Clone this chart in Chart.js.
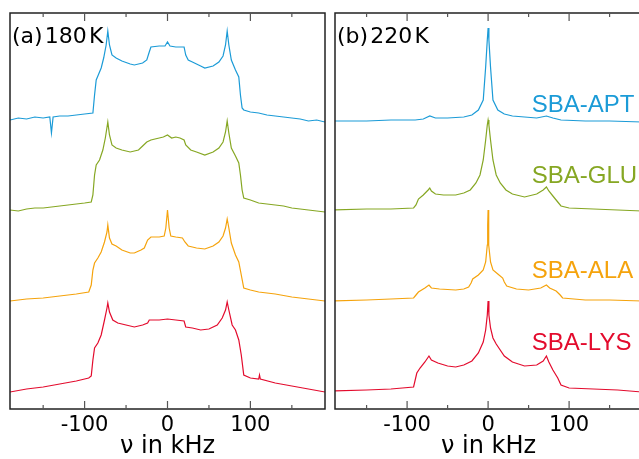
<!DOCTYPE html>
<html>
<head>
<meta charset="utf-8">
<script src="https://cdn.jsdelivr.net/npm/chart.js@4.4.1/dist/chart.umd.min.js"></script>
<style>
  html, body { margin: 0; padding: 0; background: #fff; overflow: hidden; width: 639px; height: 459px; }
  canvas { position: absolute; top: 0; }
  #left { left: 0; }
  #right { left: 325px; }
</style>
</head>
<body>
<canvas id="left" width="330" height="459"></canvas>
<canvas id="right" width="320" height="459"></canvas>
<script>
// stacked spectra: names, colours and vertical offsets
const samples = ['SBA-APT', 'SBA-GLU', 'SBA-ALA', 'SBA-LYS'];
const colors = ['#1b9bd7', '#86a723', '#f5a30c', '#e30b2d'];
const offsets = [289, 199, 108, 17];
const tickValues = [-150, -100, -50, 0, 50, 100, 150];
const tickLabels = ['', '-100', '', '0', '', '100', ''];

// (a) 180 K  -- frequency in kHz, intensity in arb. units
const aptX180 = [-190,-180,-170,-160,-150,-142,-140,-138,-130,-120,-110,-100,-90,-88,-86,-84,-80,-77,-74,-72,-70,-67,-62,-55,-45,-40,-30,-25,-22,-20,-10,-3,0,3,10,20,22,25,30,40,45,55,62,67,70,72,74,77,82,86,88,90,92,100,110,120,130,140,150,160,170,180,190];
const aptY180 = [0,2,1,3,2,3,-13,3,4,4,5,6,7,25,40,44,52,62,75,89,75,65,62,59,56,55,57,60,68,73,74,74,78,74,73,73,65,60,58,54,52,54,58,64,75,89,75,60,50,43,25,12,10,8,7,5,4,3,2,1,-1,0,-2];
const gluX180 = [-190,-180,-170,-160,-150,-140,-130,-120,-110,-100,-92,-90,-88,-86,-82,-78,-75,-72,-70,-67,-62,-55,-45,-40,-35,-30,-25,-20,-10,-5,0,5,10,15,20,22,28,35,45,55,62,67,70,72,74,77,82,86,88,90,92,100,110,120,130,140,150,160,170,180,190];
const gluY180 = [0,-1,1,2,2,3,4,5,6,7,8,15,35,45,50,60,72,88,75,65,62,60,58,59,60,64,68,70,72,73,75,72,73,72,70,65,60,58,55,58,62,68,78,89,77,62,54,47,35,20,12,10,7,6,5,4,2,1,0,-1,-2];
const alaX180 = [-190,-170,-150,-130,-110,-95,-92,-90,-88,-84,-80,-76,-73,-72,-70,-67,-62,-55,-45,-40,-32,-28,-24,-20,-10,-4,-2,0,2,4,10,18,21,25,35,45,55,62,67,70,72,74,77,82,86,89,92,100,110,130,150,170,190];
const alaY180 = [0,2,3,5,7,9,16,31,38,43,49,59,69,76,63,57,55,51,48,48,51,53,61,64,64,65,73,91,73,65,64,63,59,55,53,52,55,59,65,73,82,73,58,46,39,26,13,11,9,7,4,2,0];
const lysX180 = [-190,-170,-150,-130,-110,-95,-92,-90,-88,-84,-80,-76,-73,-72,-70,-66,-60,-50,-40,-30,-24,-22,-10,0,10,20,22,30,40,50,60,66,70,72,74,78,82,86,89,92,100,110,111,112,130,150,170,190];
const lysY180 = [0,3,5,8,11,14,16,32,44,49,57,72,84,89,80,72,69,67,65,67,69,72,72,73,72,71,65,64,62,63,67,74,82,90,82,67,62,52,37,17,14,13,17,13,9,6,3,0];

// (b) 220 K
const aptX220 = [-190,-150,-120,-90,-80,-72,-65,-50,-30,-20,-12,-6,-3,-1,0,1,3,6,12,20,30,45,60,72,80,90,120,150,190];
const aptY220 = [-1,-1,0,0,1,4,2,2,3,5,10,20,53,80,92,80,53,20,10,6,4,3,2,4,2,0,-1,-1,-2];
const gluX220 = [-190,-150,-120,-92,-89,-86,-80,-74,-72,-70,-65,-55,-40,-30,-22,-15,-10,-6,-3,-1,0,1,3,6,10,15,22,30,45,60,68,72,75,80,86,90,100,130,160,190];
const gluY220 = [0,1,1,2,5,11,15,20,22,19,16,15,15,17,20,27,35,50,70,85,90,85,70,50,35,27,20,16,13,16,20,23,19,14,8,4,2,1,0,-1];
const alaX220 = [-190,-150,-120,-92,-89,-86,-78,-73,-70,-60,-40,-30,-24,-21,-19,-12,-6,-3,-1,-0.5,0,0.5,1,3,6,12,18,20,23,35,50,65,72,76,84,89,92,120,150,190];
const alaY220 = [0,1,2,3,6,9,13,16,13,12,11,12,14,18,22,26,31,39,56,76,91,76,56,39,31,27,23,19,15,12,11,13,16,13,10,6,3,1,1,0];
const lysX220 = [-190,-150,-120,-92,-88,-84,-78,-73,-70,-62,-50,-40,-30,-20,-12,-6,-3,-1,0,1,3,6,10,20,30,45,60,68,72,75,80,86,90,100,130,160,190];
const lysY220 = [1,2,3,5,19,24,30,36,32,29,26,25,27,31,39,50,62,77,91,77,64,54,48,36,30,26,27,31,36,30,22,14,7,4,3,2,0];

const SANS = "'Liberation Sans', Arial, sans-serif";
const WIDE = "'DejaVu Sans', sans-serif";

const framePlugin = {
    id: 'frame',
    afterDatasetsDraw(chart, args, opts) {
        const { ctx, chartArea: a, scales: { x, y } } = chart;
        ctx.save();
        ctx.strokeStyle = '#222';
        ctx.lineWidth = 1.5;
        ctx.strokeRect(a.left, a.top, a.right - a.left, a.bottom - a.top);

        ctx.strokeStyle = '#555';
        ctx.lineWidth = 1.2;
        x.ticks.forEach(t => {
            const px = x.getPixelForValue(t.value);
            const len = t.value % 100 === 0 ? 8 : 4;
            ctx.beginPath();
            ctx.moveTo(px, a.top);
            ctx.lineTo(px, a.top + len);
            ctx.moveTo(px, a.bottom);
            ctx.lineTo(px, a.bottom - len);
            ctx.stroke();
        });

        // panel label
        ctx.fillStyle = '#000';
        ctx.font = '22px ' + WIDE;
        ctx.textAlign = 'left';
        ctx.textBaseline = 'alphabetic';
        ctx.fillText(opts.panel, a.left + 2, a.top + 30);

        // sample names
        if (opts.names) {
            ctx.font = '24px ' + SANS;
            samples.forEach((name, i) => {
                ctx.fillStyle = colors[i];
                ctx.fillText(name, x.getPixelForValue(54), y.getPixelForValue(offsets[i] + opts.nameHeights[i]));
            });
        }
        ctx.restore();
    }
};

function makeChart(id, xs, ys, xmin, xmax, panel, names, padRight) {
    const datasets = xs.map((xv, i) => ({
        label: samples[i],
        data: xv.map((v, j) => ({ x: v, y: ys[i][j] + offsets[i] })),
        borderColor: colors[i],
        borderWidth: 1.2,
        pointRadius: 0,
        tension: 0,
        fill: false
    }));

    new Chart(document.getElementById(id), {
        type: 'line',
        data: { datasets },
        options: {
            responsive: false,
            animation: false,
            layout: { padding: { left: 10, right: padRight, top: 13, bottom: 0 } },
            scales: {
                x: {
                    type: 'linear',
                    min: xmin,
                    max: xmax,
                    afterBuildTicks: s => { s.ticks = tickValues.map(v => ({ value: v })); },
                    afterFit: s => { s.height = 50; },
                    grid: { display: false, drawTicks: false },
                    border: { display: false },
                    ticks: {
                        autoSkip: false,
                        maxRotation: 0,
                        padding: 4,
                        color: '#000',
                        font: { size: 21, family: WIDE },
                        callback: v => tickLabels[tickValues.indexOf(v)] || ''
                    },
                    title: {
                        display: true,
                        text: 'ν in kHz',
                        color: '#000',
                        padding: 0,
                        font: { size: 24, family: WIDE, lineHeight: 1.0 }
                    }
                },
                y: { display: false, min: 0, max: 396 }
            },
            plugins: {
                legend: { display: false },
                tooltip: { enabled: false },
                frame: { panel, names, nameHeights: [8, 27, 23, 42] }
            }
        },
        plugins: [framePlugin]
    });
}

makeChart('left', [aptX180, gluX180, alaX180, lysX180], [aptY180, gluY180, alaY180, lysY180],
    -190, 190, '(a)\u200a180\u200aK', false, 5);
makeChart('right', [aptX220, gluX220, alaX220, lysX220], [aptY220, gluY220, alaY220, lysY220],
    -189, 190, '(b)\u200a220\u200aK', true, 3);
</script>
</body>
</html>
